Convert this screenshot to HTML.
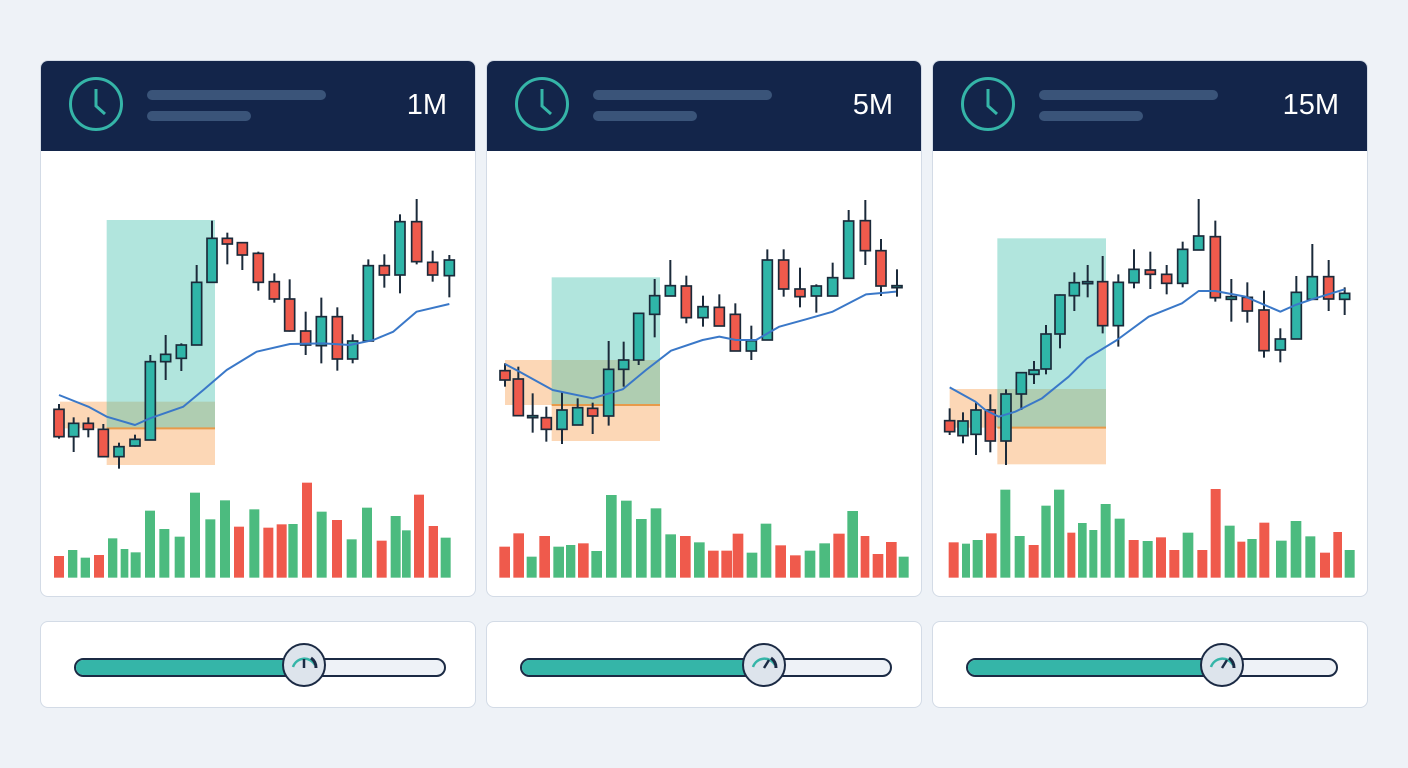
<!DOCTYPE html>
<html><head><meta charset="utf-8"><style>
body{margin:0;width:1408px;height:768px;background:#eef2f7;position:relative;overflow:hidden;font-family:"Liberation Sans",sans-serif}
.card{position:absolute;top:60px;width:434px;height:535px;background:#fff;border:1px solid #d3dbe6;border-radius:8px;overflow:hidden}
.hdr{position:absolute;left:0;top:0;width:100%;height:90px;background:#13254a}
.clk{position:absolute;left:28px;top:16px;width:54px;height:54px;border:3px solid #35b5a8;border-radius:50%;box-sizing:border-box}
.b1{position:absolute;left:106px;top:29px;width:179px;height:10px;border-radius:5px;background:#3a5479}
.b2{position:absolute;left:106px;top:50px;width:104px;height:10px;border-radius:5px;background:#3a5479}
.lab{position:absolute;right:28px;top:28px;color:#fff;font-size:29px}
.sc{position:absolute;top:621px;width:434px;height:85px;background:#fff;border:1px solid #d3dbe6;border-radius:8px}
.trk{position:absolute;left:33px;top:36px;width:368px;height:15px;border:2px solid #1b2a44;border-radius:10px;background:#eef2f7;overflow:hidden}
.fill{position:absolute;left:0;top:0;height:100%;background:#35b5a8}
.knob{position:absolute;top:21px;width:44px;height:44px;border:2px solid #1b2a44;border-radius:50%;background:#dde4ec;box-sizing:border-box}
svg.ch{position:absolute;top:180px}
</style></head><body>
<div class="card" style="left:40px"><div class="hdr"><div class="clk"></div><svg style="position:absolute;left:28px;top:16px" width="54" height="54"><polyline points="27,12 27,29 36,37" fill="none" stroke="#35b5a8" stroke-width="3"/></svg><div class="b1"></div><div class="b2"></div><div class="lab">1M</div></div></div>
<div class="card" style="left:486px"><div class="hdr"><div class="clk"></div><svg style="position:absolute;left:28px;top:16px" width="54" height="54"><polyline points="27,12 27,29 36,37" fill="none" stroke="#35b5a8" stroke-width="3"/></svg><div class="b1"></div><div class="b2"></div><div class="lab">5M</div></div></div>
<div class="card" style="left:932px"><div class="hdr"><div class="clk"></div><svg style="position:absolute;left:28px;top:16px" width="54" height="54"><polyline points="27,12 27,29 36,37" fill="none" stroke="#35b5a8" stroke-width="3"/></svg><div class="b1"></div><div class="b2"></div><div class="lab">15M</div></div></div>

<div class="sc" style="left:40px"><div class="trk"><div class="fill" style="width:240px"></div></div><div class="knob" style="left:241px"><svg width="40" height="40"><path d="M9,22 A12,12 0 0 1 31,20" fill="none" stroke="#35b5a8" stroke-width="2.5"/><path d="M27,13 A12,12 0 0 1 32,23" fill="none" stroke="#1b2a44" stroke-width="3"/><line x1="20" y1="14" x2="20" y2="23" stroke="#1b2a44" stroke-width="2.5"/></svg></div></div>
<div class="sc" style="left:486px"><div class="trk"><div class="fill" style="width:250px"></div></div><div class="knob" style="left:255px"><svg width="40" height="40"><path d="M9,22 A12,12 0 0 1 31,20" fill="none" stroke="#35b5a8" stroke-width="2.5"/><path d="M27,13 A12,12 0 0 1 32,23" fill="none" stroke="#1b2a44" stroke-width="3"/><line x1="20" y1="23" x2="25" y2="15" stroke="#1b2a44" stroke-width="2.5"/></svg></div></div>
<div class="sc" style="left:932px"><div class="trk"><div class="fill" style="width:260px"></div></div><div class="knob" style="left:267px"><svg width="40" height="40"><path d="M9,22 A12,12 0 0 1 31,20" fill="none" stroke="#35b5a8" stroke-width="2.5"/><path d="M27,13 A12,12 0 0 1 32,23" fill="none" stroke="#1b2a44" stroke-width="3"/><line x1="20" y1="23" x2="25" y2="15" stroke="#1b2a44" stroke-width="2.5"/></svg></div></div>

<svg class="ch" id="s1" style="left:40px" width="440" height="420" viewBox="0 0 1320 1260"></svg>
<svg class="ch" id="s2" style="left:486px" width="440" height="420" viewBox="0 0 1320 1260"></svg>
<svg class="ch" id="s3" style="left:932px" width="440" height="420" viewBox="0 0 1320 1260"></svg>
<script>
var R='#ef5a4c',G='#4cbb7f',T='#2fb5a8',O='#1b2a3a';
function draw(id,box,cs,ma,vs){
 var s='';
 // orange
 s+='<rect x="'+box.ol+'" y="'+box.ot+'" width="'+(box.r-box.ol)+'" height="'+(box.line-box.ot)+'" fill="#fcd7b6"/>';
 s+='<rect x="'+box.tl+'" y="'+box.line+'" width="'+(box.r-box.tl)+'" height="'+(box.ob-box.line)+'" fill="#fcd7b6"/>';
 s+='<rect x="'+box.tl+'" y="'+box.tt+'" width="'+(box.r-box.tl)+'" height="'+(box.line-box.tt)+'" fill="rgb(60,190,170)" fill-opacity="0.4"/>';
 s+='<line x1="'+box.tl+'" x2="'+box.r+'" y1="'+box.line+'" y2="'+box.line+'" stroke="#e89a4a" stroke-width="6"/>';
 cs.forEach(function(c){
  s+='<line x1="'+c[0]+'" x2="'+c[0]+'" y1="'+c[3]+'" y2="'+c[4]+'" stroke="'+O+'" stroke-width="6"/>';
  var h=Math.max(c[2]-c[1],6);
  s+='<rect x="'+(c[0]-15)+'" y="'+c[1]+'" width="30" height="'+h+'" fill="'+(c[5]?T:R)+'" stroke="'+O+'" stroke-width="5"/>';
 });
 s+='<polyline points="'+ma+'" fill="none" stroke="#3a78c8" stroke-width="6" stroke-linejoin="round"/>';
 vs.forEach(function(v){
  s+='<rect x="'+v[0]+'" y="'+v[2]+'" width="'+(v[1]-v[0])+'" height="'+(1193-v[2])+'" fill="'+(v[3]?G:R)+'"/>';
 });
 document.getElementById(id).innerHTML=s;
}
var r=0,g=1;
draw('s1',{ol:60,ot:665,tl:200,tt:120,r:525,line:745,ob:855},
[[57,688,770,672,776,r],[101,730,770,712,816,g],[145,730,748,712,772,r],[190,748,830,732,830,r],[237,800,830,788,866,g],[285,778,798,764,800,g],[331,545,780,525,780,g],[377,523,545,465,600,g],[424,495,535,490,573,g],[470,307,495,255,495,g],[516,175,307,122,307,g],[562,175,192,158,253,r],[607,188,225,188,270,r],[655,220,307,215,332,r],[703,305,357,280,368,r],[749,357,453,298,455,r],[797,453,495,395,525,r],[844,410,497,353,550,g],[892,410,537,382,572,r],[938,483,537,463,550,g],[985,257,483,238,483,g],[1033,257,285,223,323,r],[1080,125,285,103,340,g],[1130,125,245,57,253,r],[1178,247,285,212,305,r],[1228,240,287,225,352,g]],
"57,645 145,680 200,710 285,735 330,715 430,680 490,630 560,570 650,515 750,492 850,490 930,495 1000,480 1060,455 1130,395 1228,372",
[[42,72,1128,r],[84,112,1110,g],[122,150,1133,g],[162,192,1125,r],[204,232,1075,g],[242,265,1107,g],[272,302,1117,g],[315,345,992,g],[358,388,1047,g],[404,434,1070,g],[450,480,938,g],[496,526,1018,g],[540,570,961,g],[582,612,1040,r],[628,658,988,g],[670,700,1043,r],[710,740,1033,r],[745,773,1032,g],[786,816,908,r],[830,860,995,g],[876,906,1020,r],[920,950,1078,g],[966,996,983,g],[1010,1040,1082,r],[1052,1082,1008,g],[1086,1112,1051,g],[1122,1152,944,r],[1166,1194,1038,r],[1202,1232,1073,g]]);
draw('s2',{ol:57,ot:540,tl:197,tt:292,r:522,line:675,ob:783},
[[57,572,600,550,620,r],[97,597,707,560,707,r],[140,707,713,640,758,g],[181,713,748,680,785,r],[228,690,748,635,792,g],[275,683,735,655,735,g],[320,685,708,668,762,r],[368,568,708,483,737,g],[413,540,568,485,620,g],[458,400,540,398,555,g],[506,347,403,297,472,g],[553,317,348,240,348,g],[601,318,413,287,430,r],[651,380,413,347,440,g],[700,382,438,343,438,r],[748,403,513,370,513,r],[796,482,513,437,540,g],[844,240,480,208,480,g],[893,240,327,208,350,r],[942,327,350,263,382,r],[991,318,348,313,398,g],[1040,293,348,248,348,g],[1088,123,295,90,295,g],[1138,122,212,60,255,r],[1185,212,318,177,348,r],[1233,317,323,268,350,g]],
"57,552 100,575 200,630 320,655 410,628 480,570 555,512 650,480 700,470 750,480 810,480 880,440 960,418 1040,395 1140,343 1230,335",
[[40,72,1100,r],[82,114,1060,r],[122,152,1130,g],[160,192,1068,r],[202,234,1100,g],[240,268,1095,g],[276,308,1090,r],[316,348,1113,g],[360,392,945,g],[405,437,962,g],[450,482,1017,g],[494,526,985,g],[538,570,1063,g],[582,614,1068,r],[624,656,1087,g],[666,698,1112,r],[706,738,1112,r],[740,772,1061,r],[782,814,1118,g],[824,856,1031,g],[868,900,1096,r],[912,944,1126,r],[956,988,1112,g],[1000,1032,1090,g],[1042,1076,1061,r],[1084,1116,993,g],[1124,1150,1068,r],[1160,1192,1122,r],[1200,1232,1086,r],[1238,1268,1130,g]]);
draw('s3',{ol:53,ot:627,tl:196,tt:175,r:522,line:743,ob:853},
[[53,722,755,685,765,r],[93,723,767,697,790,g],[132,690,763,668,825,g],[175,690,783,643,817,r],[222,642,783,628,855,g],[268,578,642,578,690,g],[306,570,583,543,612,g],[342,462,567,435,583,g],[384,345,462,343,505,g],[427,308,347,277,393,g],[467,305,310,255,352,g],[512,305,437,228,460,r],[559,307,437,283,500,g],[606,268,308,208,325,g],[655,270,283,215,327,r],[704,283,310,255,343,r],[752,208,310,185,322,g],[800,168,210,57,210,g],[850,170,353,122,365,r],[898,350,358,297,425,g],[946,352,393,307,428,r],[996,390,512,332,533,r],[1045,477,510,445,547,g],[1093,337,477,288,477,g],[1141,290,358,192,358,g],[1190,290,357,240,393,r],[1238,340,358,322,405,g]],
"53,622 130,665 160,690 200,710 250,695 330,655 410,590 465,535 555,480 650,410 750,370 800,333 850,333 940,350 1045,395 1090,375 1140,358 1238,328",
[[50,80,1087,r],[90,114,1091,g],[122,152,1080,g],[162,194,1060,r],[205,235,929,g],[248,278,1068,g],[290,320,1095,r],[328,356,977,g],[366,397,929,g],[406,430,1058,r],[438,464,1029,g],[472,496,1050,g],[506,536,972,g],[548,578,1016,g],[590,620,1080,r],[632,662,1083,g],[672,702,1072,r],[712,742,1110,r],[752,784,1058,g],[796,826,1110,r],[836,866,927,r],[878,908,1037,g],[916,940,1085,r],[946,974,1077,g],[982,1012,1028,r],[1032,1064,1082,g],[1076,1108,1023,g],[1120,1150,1069,g],[1164,1194,1118,r],[1204,1230,1056,r],[1238,1268,1110,g]]);
</script>
</body></html>
